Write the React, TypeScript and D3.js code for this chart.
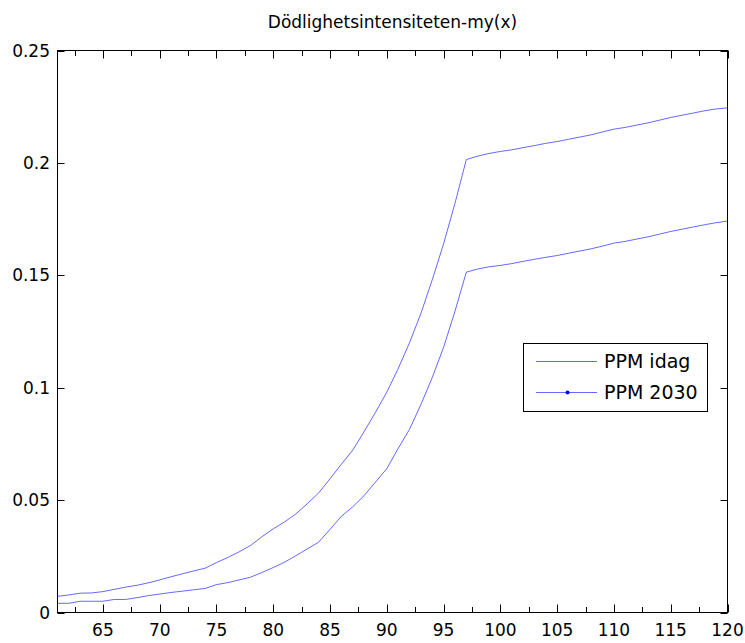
import React from "react";
import * as d3 from "d3";

const title = "Dödlighetsintensiteten-my(x)";
const seriesNames = ["PPM idag", "PPM 2030"];

const ages = [
  61, 62, 63, 64, 65, 66, 67, 68, 69, 70, 71, 72, 73, 74, 75, 76, 77, 78, 79, 80,
  81, 82, 83, 84, 85, 86, 87, 88, 89, 90, 91, 92, 93, 94, 95, 96, 97, 98, 99, 100,
  101, 102, 103, 104, 105, 106, 107, 108, 109, 110, 111, 112, 113, 114, 115, 116, 117, 118, 119, 120,
];

// PPM idag
const idag = [
  0.0072, 0.0078, 0.0086, 0.0087, 0.0093, 0.0103, 0.0113, 0.0121, 0.0132, 0.0145,
  0.0159, 0.0172, 0.0185, 0.0197, 0.0222, 0.0245, 0.027, 0.0298, 0.0337, 0.0372,
  0.0403, 0.0439, 0.0484, 0.0532, 0.0595, 0.066, 0.0722, 0.0805, 0.089, 0.098,
  0.1085, 0.12, 0.133, 0.148, 0.164, 0.182, 0.2015, 0.203, 0.2042, 0.2051,
  0.2058, 0.2068, 0.2077, 0.2087, 0.2095, 0.2105, 0.2115, 0.2125, 0.2138, 0.215,
  0.2158, 0.2168, 0.2178, 0.219, 0.2202, 0.2212, 0.2222, 0.2232, 0.224, 0.2245,
];

// PPM 2030
const ppm2030 = [
  0.0041, 0.0041, 0.005, 0.005, 0.005, 0.0058, 0.0058, 0.0066, 0.0075, 0.0082,
  0.0089, 0.0095, 0.0101, 0.0107, 0.0124, 0.0133, 0.0145, 0.0157, 0.0178, 0.02,
  0.0224, 0.0253, 0.0283, 0.0313, 0.037, 0.0428, 0.047, 0.052, 0.058, 0.064,
  0.073, 0.0815, 0.0925, 0.1045, 0.118, 0.134, 0.1514, 0.1528, 0.1538, 0.1544,
  0.1552, 0.1562, 0.1571, 0.158, 0.1588, 0.1598, 0.1608, 0.1618, 0.163, 0.1643,
  0.1651, 0.1661, 0.1671, 0.1683, 0.1695, 0.1705, 0.1715, 0.1725, 0.1734, 0.1741,
];

const xTicks = [65, 70, 75, 80, 85, 90, 95, 100, 105, 110, 115, 120];
const xMinorTicks = [62.5, 67.5, 72.5, 77.5, 82.5, 87.5, 92.5, 97.5, 102.5, 107.5, 112.5, 117.5];
const yTicks = [0, 0.05, 0.1, 0.15, 0.2, 0.25];
const yTickLabels = ["0", "0.05", "0.1", "0.15", "0.2", "0.25"];

const font = "'DejaVu Sans', sans-serif";
const lineColor = "#0000ff";

const App = () => {
  const left = 57.5;
  const right = 727.5;
  const top = 50.5;
  const bottom = 612.5;

  // scales
  const xScale = d3.scaleLinear().domain([61, 120]).range([left, right]);
  const yScale = d3.scaleLinear().domain([0, 0.25]).range([bottom, top]);

  const line = d3
    .line<number>()
    .x((d, i) => xScale(ages[i]))
    .y(d => yScale(d));

  const series = [idag, ppm2030];
  const px = (v: number) => Math.round(v) + 0.5;

  return (
    <svg
      width={745}
      height={643}
      style={{ position: "absolute", left: 0, top: 0, background: "#fff" }}
    >
      <rect x={0} y={0} width={745} height={643} fill="#fff" />
      <text
        x={(left + right) / 2}
        y={28}
        textAnchor="middle"
        fontFamily={font}
        fontSize={17}
        fill="#000"
      >
        {title}
      </text>

      <defs>
        <clipPath id="plot">
          <rect x={left} y={top} width={right - left} height={bottom - top} />
        </clipPath>
      </defs>

      <g clipPath="url(#plot)">
        {series.map((s, i) => (
          <path
            key={seriesNames[i]}
            d={line(s) || ""}
            fill="none"
            stroke={lineColor}
            strokeWidth={0.6}
          />
        ))}
      </g>

      {/* box */}
      <rect
        x={left}
        y={top}
        width={right - left}
        height={bottom - top}
        fill="none"
        stroke="#000"
        strokeWidth={1}
      />

      {/* x ticks */}
      {xTicks.map(t => (
        <g key={"x" + t}>
          <line x1={px(xScale(t))} x2={px(xScale(t))} y1={bottom} y2={bottom - 8} stroke="#000" />
          <line x1={px(xScale(t))} x2={px(xScale(t))} y1={top} y2={top + 8} stroke="#000" />
          <text
            x={xScale(t)}
            y={636}
            textAnchor="middle"
            fontFamily={font}
            fontSize={17}
            fill="#000"
          >
            {t}
          </text>
        </g>
      ))}
      {xMinorTicks.map(t => (
        <g key={"xm" + t}>
          <line x1={px(xScale(t))} x2={px(xScale(t))} y1={bottom} y2={bottom - 5.5} stroke="#000" />
          <line x1={px(xScale(t))} x2={px(xScale(t))} y1={top} y2={top + 5.5} stroke="#000" />
        </g>
      ))}

      {/* y ticks */}
      {yTicks.map((t, i) => (
        <g key={"y" + t}>
          <line x1={left} x2={left + 7} y1={px(yScale(t))} y2={px(yScale(t))} stroke="#000" />
          <line x1={right} x2={right - 7} y1={px(yScale(t))} y2={px(yScale(t))} stroke="#000" />
          <text
            x={50}
            y={yScale(t)}
            dy="0.36em"
            textAnchor="end"
            fontFamily={font}
            fontSize={17}
            fill="#000"
          >
            {yTickLabels[i]}
          </text>
        </g>
      ))}

      {/* legend */}
      <g>
        <rect x={523.5} y={343.5} width={184} height={68} fill="#fff" stroke="#000" strokeWidth={1} />
        {seriesNames.map((name, i) => {
          const ly = 361.5 + i * 31;
          return (
            <g key={name}>
              <line x1={536} x2={597} y1={ly} y2={ly} stroke={lineColor} strokeWidth={0.6} />
              {i === 1 && <circle cx={567.5} cy={ly} r={2} fill={lineColor} />}
              <text
                x={604}
                y={ly}
                dy="0.36em"
                fontFamily={font}
                fontSize={19}
                fill="#000"
              >
                {name}
              </text>
            </g>
          );
        })}
      </g>
    </svg>
  );
};

export default App;
